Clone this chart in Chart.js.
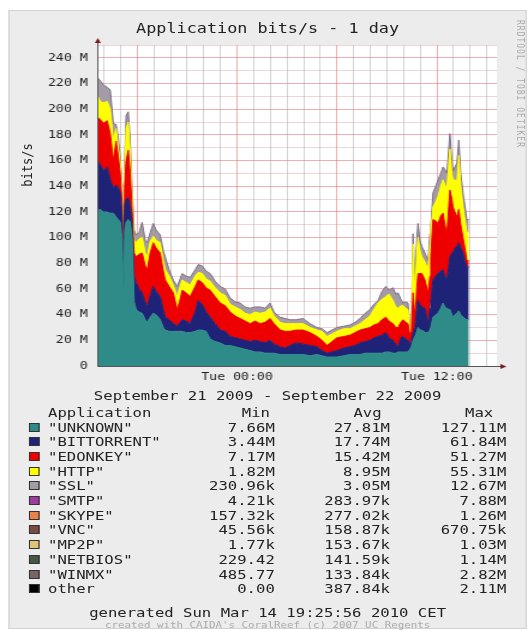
<!DOCTYPE html>
<html>
<head>
<meta charset="utf-8">
<script src="https://cdn.jsdelivr.net/npm/chart.js@4"></script>
<style>
body { margin: 0; background: #fff; width: 530px; height: 630px; overflow: hidden; font-family: 'DejaVu Sans Mono', monospace; }
#page { position: absolute; left: 0; top: 0; width: 442px; height: 630px; transform: scaleX(1.2); transform-origin: 0 0; }
#panel { position: absolute; left: 7px; top: 10px; width: 432px; height: 619px; background: #ececec; border: 1px solid #d2d2d2; box-sizing: border-box; }
canvas { position: absolute; left: 0; top: 0; }
.t { position: absolute; white-space: pre; color: #222; }
.sw { position: absolute; width: 9px; height: 9px; border: 1px solid #333; box-sizing: border-box; }
</style>
</head>
<body>
<div id="page">
  <div id="panel"></div>
  <canvas id="appChart" width="442" height="392"></canvas>
</div>
<script>
// sample times (Mon 21 Sep 15:36 -> Tue 22 Sep 13:55), values in Mbit/s
const times = [
  '15:36','15:47','15:58','16:12','16:23','16:34','16:44','16:52','16:59','17:06',
  '17:11','17:15','17:20','17:28','17:35','17:42','17:49','17:56','18:07','18:18',
  '18:29','18:36','18:47','18:58','19:08','19:23','19:34','19:41','19:55','20:10',
  '20:24','20:35','20:42','20:56','21:11','21:29','21:40','21:54','22:08','22:23',
  '22:41','22:59','23:17','23:35','23:53','00:11','00:29','00:47','01:05','01:23',
  '01:41','01:59','02:13','02:35','02:53','03:11','03:32','03:58','04:23','04:48',
  '05:06','05:24','05:42','06:00','06:25','06:47','07:05','07:23','07:41','07:59',
  '08:13','08:28','08:42','08:56','09:07','09:22','09:32','09:40','09:50','09:58',
  '10:08','10:16','10:23','10:28','10:34','10:41','10:48','10:52','10:59','11:06',
  '11:17','11:28','11:35','11:38','11:46','11:56','12:04','12:14','12:22','12:29',
  '12:36','12:43','12:47','12:54','12:58','13:05','13:12','13:19','13:26','13:34',
  '13:41','13:48','13:55'
];
const unknown = [
  121,122,120,120,119,119,116,114,112,98,
  55,105,112,114,112,100,50,44,42,41,
  36,34,38,41,40,36,30,28,27,27,
  27,27,27,26,26,27,28,28,27,21,
  19,18,16,16,15,14,13,12,11,11,
  10,10,10,9,9,9,9,9,8,9,
  8,7,7,7,8,9,9,9,10,10,
  10,10,10,11,11,10,10,11,11,11,
  11,11,13,15,20,23,27,30,28,28,
  26,26,28,30,38,40,41,45,49,46,
  45,44,44,40,38,40,41,43,40,38,
  37,36,36
];
const bittorrent = [
  39,35,32,35,26,20,25,25,23,17,
  5,20,18,17,13,10,20,21,18,16,
  14,12,17,21,18,18,14,10,9,6,
  4,7,9,9,7,15,23,20,15,17,
  14,10,11,7,7,7,7,7,9,8,
  8,10,7,6,5,7,9,8,8,6,
  4,3,4,5,6,6,7,9,9,10,
  12,13,14,15,11,10,7,4,11,12,
  10,9,4,5,6,7,18,21,20,18,
  19,7,17,20,29,30,31,29,26,24,
  22,34,41,48,50,52,52,53,52,50,
  45,41,41
];
const edonkey = [
  34,35,37,36,36,21,34,24,15,10,
  2,15,30,37,25,10,18,20,27,31,
  28,29,33,34,34,34,30,29,26,24,
  13,18,23,22,21,20,16,17,19,21,
  21,21,20,19,17,16,15,14,15,14,
  16,17,16,13,13,11,10,11,10,8,
  8,6,8,10,9,9,10,10,10,10,
  10,10,12,12,13,13,13,15,12,13,
  13,13,7,7,31,8,17,21,24,26,
  22,24,25,35,47,43,39,43,44,40,
  36,47,52,42,36,28,23,26,18,12,
  10,5,5
];
const http = [
  17,14,16,15,19,16,10,7,8,10,
  1,10,25,22,15,10,10,11,12,12,
  10,10,9,5,6,8,8,8,8,6,
  10,10,8,8,9,8,6,7,7,7,
  7,8,8,6,7,7,6,7,7,8,
  8,8,6,6,6,6,5,5,4,5,
  7,7,6,5,6,5,5,5,7,9,
  12,16,16,16,21,18,16,15,13,11,
  11,11,4,2,38,17,28,28,18,13,
  14,18,25,20,10,15,21,23,26,31,
  35,33,32,20,21,25,27,42,30,25,
  22,22,22
];
const ssl = [
  14,16,14,11,15,13,3,8,4,5,
  1,10,10,8,10,7,8,6,5,12,
  10,11,7,10,8,6,8,10,5,4,
  8,6,5,5,6,5,6,6,6,6,
  5,5,5,5,4,5,5,5,4,5,
  3,4,3,4,4,3,3,4,3,2,
  2,3,3,3,2,3,3,4,5,5,
  4,2,6,8,3,10,10,12,5,2,
  5,5,2,2,8,12,10,11,8,8,
  7,7,8,3,11,12,13,10,10,12,
  12,12,12,10,7,10,15,12,10,10,
  11,10,10
];

// legend table
const appNames = ['"UNKNOWN"', '"BITTORRENT"', '"EDONKEY"', '"HTTP"', '"SSL"', '"SMTP"', '"SKYPE"', '"VNC"', '"MP2P"', '"NETBIOS"', '"WINMX"', 'other'];
const appColors = ['#2e8b87', '#1f2378', '#ee0000', '#ffff00', '#a39ca6', '#a03ca0', '#e8844a', '#7a4a45', '#e0c27a', '#465646', '#7a6464', '#000000'];
const minLabels = ['7.66M', '3.44M', '7.17M', '1.82M', '230.96k', '4.21k', '157.32k', '45.56k', '1.77k', '229.42', '485.77', '0.00'];
const avgLabels = ['27.81M', '17.74M', '15.42M', '8.95M', '3.05M', '283.97k', '277.02k', '158.87k', '153.67k', '141.59k', '133.84k', '387.84k'];
const maxLabels = ['127.11M', '61.84M', '51.27M', '55.31M', '12.67M', '7.88M', '1.26M', '670.75k', '1.03M', '1.14M', '2.82M', '2.11M'];

const seriesData = [unknown, bittorrent, edonkey, http, ssl];

const toHours = t => {
    const [h, m] = t.split(':').map(Number);
    const v = h + m / 60;
    return v > 15 ? v - 24 : v;   // Monday afternoon -> negative hours before Tue 00:00
};
const xs = times.map(toHours);

const page = document.getElementById('page');
function addText(str, x, y, align, size, color) {
    const el = document.createElement('div');
    el.className = 't';
    el.textContent = str;
    el.style.fontSize = size + 'px';
    el.style.lineHeight = (size + 4) + 'px';
    el.style.top = (y - (size + 4) / 2) + 'px';
    if (color) el.style.color = color;
    if (align === 'left') {
        el.style.left = x + 'px';
    } else if (align === 'right') {
        el.style.left = (x - 200) + 'px';
        el.style.width = '200px';
        el.style.textAlign = 'right';
    } else {
        el.style.left = (x - 300) + 'px';
        el.style.width = '600px';
        el.style.textAlign = 'center';
    }
    page.appendChild(el);
    return el;
}

addText('Application bits/s - 1 day', 223, 28, 'center', 14);
const yl = addText('bits/s', 23, 165, 'center', 12);
yl.style.transform = 'rotate(-90deg)';
const wm = document.createElement('div');
wm.className = 't';
wm.textContent = 'RRDTOOL / TOBI OETIKER';
wm.style.cssText += 'left:429px;top:20px;writing-mode:vertical-rl;font-size:8px;color:#aaa;letter-spacing:1px;';
page.appendChild(wm);

addText('September 21 2009 - September 22 2009', 223, 395, 'center', 13);
addText('Application', 40, 412, 'left', 13);
addText('Min', 225, 412, 'right', 13);
addText('Avg', 318, 412, 'right', 13);
addText('Max', 411, 412, 'right', 13);
appNames.forEach((name, i) => {
    const y = 427 + i * 14.7;
    const sw = document.createElement('div');
    sw.className = 'sw';
    sw.style.left = '24px';
    sw.style.top = (y - 4.5) + 'px';
    sw.style.background = appColors[i];
    page.appendChild(sw);
    addText(name, 40, y, 'left', 13);
    addText(minLabels[i], 229, y, 'right', 13);
    addText(avgLabels[i], 325, y, 'right', 13);
    addText(maxLabels[i], 422, y, 'right', 13);
});
addText('generated Sun Mar 14 19:25:56 2010 CET', 223, 612, 'center', 13);
addText("created with CAIDA's CoralReef (c) 2007 UC Regents", 223, 625, 'center', 9, '#aaa');

const majorGrid = 'rgba(230,110,110,0.55)';
const minorHGrid = 'rgba(215,150,155,0.4)';
const minorVGrid = 'rgba(160,160,160,0.45)';

const frame = {
    id: 'frame',
    beforeDraw(chart) {
        const { ctx, chartArea: a } = chart;
        ctx.save();
        ctx.fillStyle = '#ffffff';
        ctx.fillRect(a.left, a.top, a.right - a.left, a.bottom - a.top);
        ctx.restore();
    },
    afterDraw(chart) {
        const { ctx, chartArea: a } = chart;
        const x0 = Math.round(a.left) + 0.5;
        const y0 = Math.round(a.bottom) + 0.5;
        ctx.save();
        ctx.strokeStyle = '#555';
        ctx.lineWidth = 1;
        ctx.beginPath();
        ctx.moveTo(x0, a.top - 4);
        ctx.lineTo(x0, y0);
        ctx.lineTo(a.right + 5, y0);
        ctx.stroke();
        ctx.fillStyle = '#7a1a1a';
        ctx.beginPath();
        ctx.moveTo(x0, a.top - 7);
        ctx.lineTo(x0 - 2.5, a.top - 2);
        ctx.lineTo(x0 + 2.5, a.top - 2);
        ctx.fill();
        ctx.beginPath();
        ctx.moveTo(a.right + 8, y0);
        ctx.lineTo(a.right + 3, y0 - 2.5);
        ctx.lineTo(a.right + 3, y0 + 2.5);
        ctx.fill();
        ctx.restore();
    }
};

Chart.defaults.font.family = "'DejaVu Sans Mono', monospace";

const ctx = document.getElementById('appChart').getContext('2d');
const appChart = new Chart(ctx, {
    type: 'line',
    data: {
        datasets: seriesData.map((vals, i) => ({
            label: appNames[i],
            data: vals.map((v, j) => ({ x: xs[j], y: v })),
            backgroundColor: appColors[i],
            borderColor: i === 4 ? '#7e7088' : appColors[i],
            borderWidth: 1,
            pointRadius: 0,
            tension: 0,
            fill: i === 0 ? 'origin' : '-1'
        }))
    },
    options: {
        responsive: false,
        animation: false,
        devicePixelRatio: 1,
        layout: { padding: { left: 0, right: 28, top: 45, bottom: 0 } },
        plugins: {
            legend: { display: false },
            tooltip: { enabled: false },
            title: { display: false }
        },
        scales: {
            x: {
                type: 'linear',
                min: -8.4,
                max: 15.6,
                afterBuildTicks: s => {
                    const ticks = [];
                    for (let h = -8; h <= 15; h++) ticks.push({ value: h });
                    s.ticks = ticks;
                },
                afterFit: s => { s.height = 26; },
                border: { display: false },
                grid: {
                    drawTicks: false,
                    color: c => (c.tick && c.tick.value % 6 === 0) ? majorGrid : minorVGrid
                },
                ticks: {
                    autoSkip: false,
                    maxRotation: 0,
                    padding: 5,
                    color: '#222',
                    font: { size: 11 },
                    callback: v => v === 0 ? 'Tue 00:00' : (v === 12 ? 'Tue 12:00' : '')
                }
            },
            y: {
                stacked: true,
                min: 0,
                max: 250,
                afterFit: s => { s.width = 81; },
                border: { display: false },
                grid: {
                    drawTicks: false,
                    color: c => (c.tick && c.tick.value % 20 === 0) ? majorGrid : minorHGrid
                },
                ticks: {
                    stepSize: 10,
                    autoSkip: false,
                    padding: 8,
                    color: '#222',
                    font: { size: 11 },
                    callback: v => v === 0 ? '0' : (v % 20 === 0 ? v + ' M' : '')
                }
            }
        }
    },
    plugins: [frame]
});
</script>
</body>
</html>
